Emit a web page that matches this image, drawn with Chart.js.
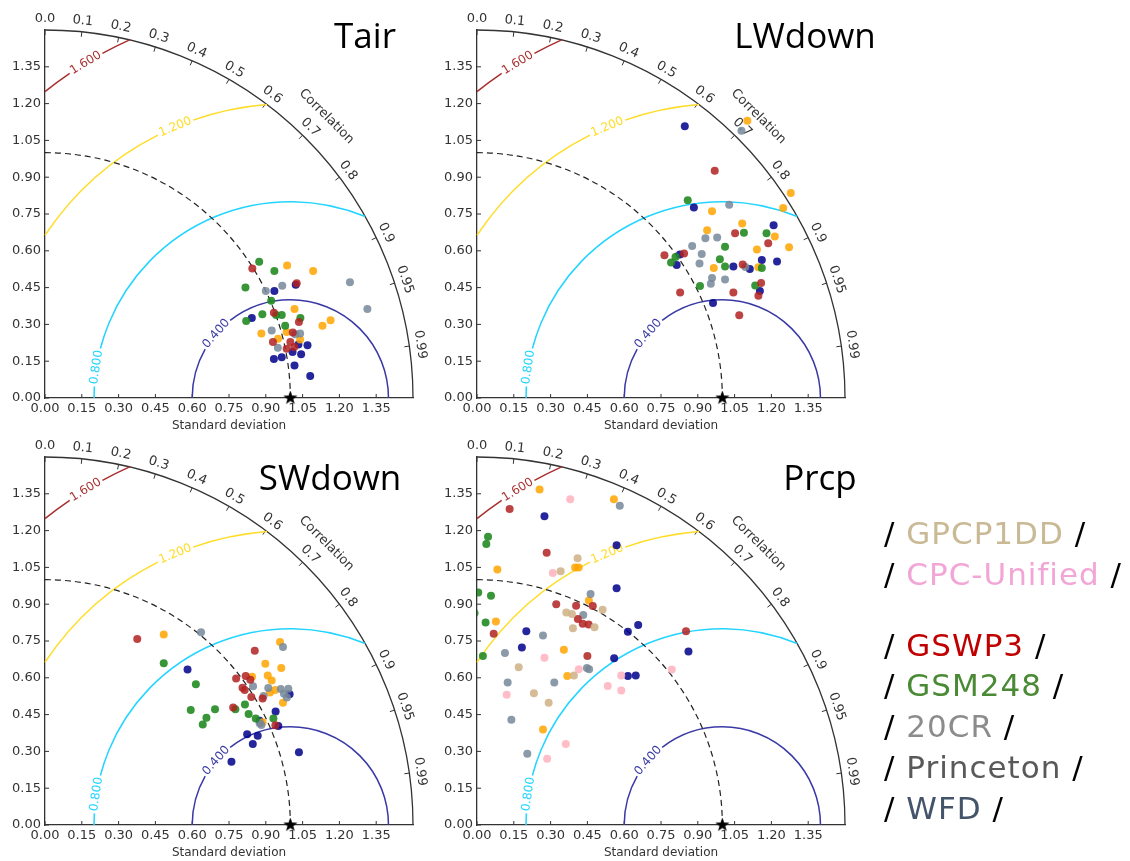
<!DOCTYPE html>
<html>
<head>
<meta charset="utf-8">
<title>Taylor diagrams</title>
<script src="https://cdn.jsdelivr.net/npm/chart.js@4.4.1/dist/chart.umd.min.js"></script>
<style>
  body { margin: 0; background: #fff; }
  #page { position: relative; width: 1130px; height: 861px; overflow: hidden; }
  #page canvas { position: absolute; }
  #legend {
    position: absolute; left: 884px; top: 513px;
    font-family: "DejaVu Sans", sans-serif; font-size: 31px; line-height: 40.8px;
    letter-spacing: 1px; color: #000; white-space: nowrap;
  }
  #legend .gap { height: 30px; }
</style>
</head>
<body>
<div id="page">
  <canvas id="c-tair" width="460" height="440" style="left:0;top:0"></canvas>
  <canvas id="c-lw" width="460" height="440" style="left:432px;top:0"></canvas>
  <canvas id="c-sw" width="460" height="440" style="left:0;top:427px"></canvas>
  <canvas id="c-prcp" width="460" height="440" style="left:432px;top:427px"></canvas>
  <div id="legend">
    <div>/ <span style="color:#c9b995">GPCP1DD</span> /</div>
    <div>/ <span style="color:#f2a6d6">CPC-Unified</span> /</div>
    <div class="gap"></div>
    <div>/ <span style="color:#c00000">GSWP3</span> /</div>
    <div>/ <span style="color:#4a8a34">GSM248</span> /</div>
    <div>/ <span style="color:#8c8c8c">20CR</span> /</div>
    <div>/ <span style="color:#595959">Princeton</span> /</div>
    <div>/ <span style="color:#44546a">WFD</span> /</div>
  </div>
</div>
<script>
// axis ticks (standard deviation) and correlation ticks on the arc
const stdTicks = [0, 0.15, 0.30, 0.45, 0.60, 0.75, 0.90, 1.05, 1.20, 1.35];
const corrTicks = [0, 0.1, 0.2, 0.3, 0.4, 0.5, 0.6, 0.7, 0.8, 0.9, 0.95, 0.99];
const maxStd = 1.5;
const refStd = 1;
const rmsLevels = [0.4, 0.8, 1.2, 1.6];

// points, [x, y] in std units
const tairGSWP3 = [[0.845,0.528],[1.026,0.468],[0.933,0.347],[1.035,0.310],[1.010,0.267],[0.929,0.228],[1.000,0.228],[1.016,0.208],[0.985,0.201]];
const tairGSM248 = [[0.873,0.555],[0.935,0.518],[0.817,0.450],[0.922,0.396],[0.886,0.341],[0.942,0.338],[0.965,0.338],[1.041,0.326],[0.820,0.314],[0.979,0.295]];
const tair20CR = [[0.900,0.436],[0.967,0.458],[1.243,0.472],[1.314,0.363],[0.924,0.275],[1.040,0.263],[1.020,0.260],[0.949,0.205]];
const tairPrinceton = [[0.987,0.540],[1.093,0.518],[1.017,0.363],[1.164,0.317],[1.131,0.294],[0.882,0.263],[0.985,0.269],[0.950,0.241],[1.040,0.238]];
const tairWFD = [[0.935,0.436],[1.022,0.462],[0.843,0.326],[1.033,0.218],[1.070,0.215],[1.009,0.188],[1.044,0.178],[0.965,0.166],[0.933,0.159],[1.017,0.132],[1.081,0.090]];

const lwGSWP3 = [[0.969,0.926],[1.052,0.672],[1.187,0.631],[0.764,0.582],[0.844,0.589],[1.083,0.544],[1.158,0.469],[1.147,0.417],[0.828,0.430],[1.045,0.430],[1.069,0.337]];
const lwGSM248 = [[0.859,0.806],[1.088,0.674],[1.180,0.672],[1.011,0.617],[0.809,0.575],[0.791,0.552],[0.990,0.566],[1.011,0.536],[1.161,0.530],[0.909,0.457],[1.134,0.459]];
const lw20CR = [[1.078,1.089],[1.028,0.788],[0.931,0.651],[0.979,0.654],[0.877,0.620],[0.916,0.587],[0.907,0.548],[1.094,0.534],[0.958,0.489],[0.953,0.466],[1.011,0.483]];
const lwPrinceton = [[1.102,1.130],[1.279,0.836],[0.958,0.761],[1.248,0.774],[1.081,0.711],[0.938,0.684],[1.214,0.658],[1.272,0.614],[1.141,0.605],[0.965,0.530],[1.147,0.533]];
const lwWFD = [[0.847,1.108],[0.884,0.776],[1.209,0.704],[0.827,0.585],[0.814,0.542],[1.161,0.563],[1.223,0.556],[1.045,0.536],[1.112,0.526],[1.153,0.436],[0.962,0.387]];

const swGSWP3 = [[0.376,0.758],[0.855,0.710],[0.779,0.597],[0.818,0.607],[0.837,0.592],[0.805,0.559],[0.814,0.550],[0.841,0.522],[0.887,0.516],[0.767,0.479],[0.939,0.407]];
const swGSM248 = [[0.484,0.659],[0.615,0.574],[0.815,0.491],[0.776,0.472],[0.693,0.472],[0.594,0.469],[0.830,0.452],[0.859,0.434],[0.658,0.437],[0.931,0.434],[0.643,0.410]];
const sw20CR = [[0.636,0.786],[0.970,0.726],[0.848,0.566],[0.910,0.558],[0.961,0.554],[0.992,0.555],[0.974,0.535],[0.986,0.520],[0.891,0.526],[0.875,0.415],[0.882,0.408]];
const swPrinceton = [[0.484,0.776],[0.958,0.746],[0.898,0.657],[0.963,0.640],[0.908,0.609],[0.844,0.604],[0.924,0.589],[0.938,0.550],[0.917,0.540],[0.970,0.498],[0.887,0.419]];
const swWFD = [[0.581,0.634],[0.997,0.533],[0.940,0.463],[0.875,0.425],[0.951,0.404],[0.824,0.370],[0.867,0.364],[0.847,0.330],[1.035,0.297],[0.760,0.258]];

const prGPCP = [[0.410,1.087],[0.341,1.034],[0.512,0.877],[0.364,0.866],[0.387,0.860],[0.479,0.806],[0.391,0.802],[0.170,0.643],[0.395,0.609],[0.232,0.537],[0.292,0.498]];
const prCPC = [[0.380,1.328],[0.309,1.027],[0.275,0.682],[0.415,0.635],[0.588,0.609],[0.794,0.634],[0.533,0.567],[0.588,0.548],[0.121,0.531],[0.362,0.330],[0.286,0.270]];
const prGSWP3 = [[0.133,1.288],[0.284,1.110],[0.323,0.900],[0.404,0.894],[0.472,0.893],[0.411,0.840],[0.431,0.820],[0.455,0.817],[0.068,0.780],[0.852,0.790],[0.450,0.689]];
const prGSM248 = [[0.045,1.175],[0.038,1.145],[0.005,0.948],[0.057,0.934],[-0.010,0.863],[0.035,0.825],[0.024,0.689]];
const pr20CR = [[0.582,1.301],[0.463,0.942],[0.433,0.856],[0.269,0.772],[0.114,0.701],[0.448,0.640],[0.457,0.635],[0.125,0.581],[0.315,0.581],[0.140,0.429],[0.205,0.290]];
const prPrinceton = [[0.255,1.368],[0.558,1.328],[0.400,1.050],[0.414,1.050],[0.083,1.041],[0.456,0.915],[0.077,0.829],[0.354,0.714],[0.368,0.607],[0.269,0.389]];
const prWFD = [[0.275,1.258],[0.569,1.140],[0.569,0.965],[0.657,0.815],[0.615,0.788],[0.201,0.790],[0.862,0.707],[0.183,0.723],[0.559,0.680],[0.615,0.607],[0.647,0.609]];

const colors = {
  GPCP1DD: 'rgba(210,180,140,0.9)',
  'CPC-Unified': 'rgba(255,182,193,0.9)',
  GSWP3: 'rgba(178,34,34,0.85)',
  GSM248: 'rgba(34,139,34,0.9)',
  '20CR': 'rgba(119,136,153,0.85)',
  Princeton: 'rgba(255,165,0,0.85)',
  WFD: 'rgba(0,0,139,0.85)'
};
const axisColor = '#333333';
const tickFont = '13px "DejaVu Sans"';
// contour colours and where the inline labels sit (degrees around the reference point)
const rmsColors = ['#3a3aa6', '#22d4ff', '#ffdc28', '#a83030'];
const rmsLabelAngles = [139, 171, 113, 121.4];

function starImage(size) {
  const c = document.createElement('canvas');
  c.width = c.height = size;
  const g = c.getContext('2d');
  const R = size / 2, r = R * 0.4;
  g.beginPath();
  for (let i = 0; i < 10; i++) {
    const a = -Math.PI / 2 + i * Math.PI / 5;
    const rr = i % 2 ? r : R;
    g.lineTo(R + rr * Math.cos(a), R + rr * Math.sin(a));
  }
  g.closePath();
  g.fillStyle = '#000';
  g.fill();
  return c;
}
const star = starImage(15);

const corrLabel = c => c === 0 ? '0.0' : String(c);

const taylorGrid = {
  id: 'taylorGrid',
  beforeDatasetsDraw(chart) {
    const {ctx, scales: {x, y}} = chart;
    const ox = x.getPixelForValue(0), oy = y.getPixelForValue(0);
    const u = x.getPixelForValue(1) - ox;
    const R = maxStd * u;
    ctx.save();

    // inward ticks on both straight axes
    ctx.strokeStyle = axisColor;
    ctx.lineWidth = 1;
    ctx.beginPath();
    stdTicks.forEach(v => {
      const px = x.getPixelForValue(v), py = y.getPixelForValue(v);
      ctx.moveTo(px, oy); ctx.lineTo(px, oy - 4);
      ctx.moveTo(ox, py); ctx.lineTo(ox + 4, py);
    });
    ctx.stroke();

    // outer arc
    ctx.lineWidth = 1.3;
    ctx.beginPath();
    ctx.arc(ox, oy, R, -Math.PI / 2, 0);
    ctx.stroke();

    // correlation ticks and labels
    ctx.font = tickFont;
    ctx.fillStyle = axisColor;
    ctx.textAlign = 'center';
    ctx.textBaseline = 'middle';
    ctx.lineWidth = 1;
    corrTicks.forEach(c => {
      const t = Math.acos(c), cs = Math.cos(t), sn = Math.sin(t);
      ctx.beginPath();
      ctx.moveTo(ox + R * cs, oy - R * sn);
      ctx.lineTo(ox + (R - 5) * cs, oy - (R - 5) * sn);
      ctx.stroke();
      ctx.save();
      ctx.translate(ox + (R + 11) * cs, oy - (R + 11) * sn);
      ctx.rotate(Math.PI / 2 - t);
      ctx.fillText(corrLabel(c), 0, 0);
      ctx.restore();
    });
    ctx.save();
    ctx.translate(ox + (R + 30) * Math.SQRT1_2, oy - (R + 30) * Math.SQRT1_2);
    ctx.rotate(Math.PI / 4);
    ctx.fillText('Correlation', 0, 0);
    ctx.restore();

    // centred RMS difference contours around the reference point
    const cx = x.getPixelForValue(refStd);
    ctx.font = '12px "DejaVu Sans"';
    ctx.lineWidth = 1.5;
    rmsLevels.forEach((r, i) => {
      const rp = r * u;
      let a0 = 0, a1 = Math.PI;
      const cosOuter = (maxStd * maxStd - refStd * refStd - r * r) / (2 * refStd * r);
      if (cosOuter < 1) a0 = Math.acos(Math.max(-1, cosOuter));
      if (r > refStd) a1 = Math.acos(-refStd / r);
      const txt = r.toFixed(3);
      const half = ctx.measureText(txt).width / 2 + 2;
      const al = rmsLabelAngles[i] * Math.PI / 180, gap = half / rp;
      ctx.strokeStyle = rmsColors[i];
      ctx.fillStyle = rmsColors[i];
      ctx.beginPath();
      ctx.arc(cx, oy, rp, -a0, -(al - gap), true);
      ctx.stroke();
      if (al + gap < a1) {
        ctx.beginPath();
        ctx.arc(cx, oy, rp, -(al + gap), -a1, true);
        ctx.stroke();
      }
      ctx.save();
      ctx.translate(cx + rp * Math.cos(al), oy - rp * Math.sin(al));
      ctx.rotate(Math.PI / 2 - al);
      ctx.fillText(txt, 0, 0);
      ctx.restore();
    });

    // reference standard deviation
    ctx.strokeStyle = '#222';
    ctx.lineWidth = 1.2;
    ctx.setLineDash([6, 4]);
    ctx.beginPath();
    ctx.arc(ox, oy, refStd * u, -Math.PI / 2, 0);
    ctx.stroke();
    ctx.restore();
  },
  afterDraw(chart, args, opts) {
    const ctx = chart.ctx;
    ctx.save();
    ctx.font = '35px "Open Sans"';
    ctx.fillStyle = '#000';
    ctx.textAlign = 'center';
    ctx.textBaseline = 'alphabetic';
    ctx.fillText(opts.title, opts.titleX, opts.titleY);
    ctx.restore();
  }
};

function makeChart(id, title, titleX, titleY, series) {
  const datasets = series.map(([name, pts]) => ({
    label: name,
    data: pts.map(([x, y]) => ({x, y})),
    backgroundColor: colors[name],
    borderWidth: 0,
    pointRadius: 4,
    pointHoverRadius: 4
  }));
  datasets.push({
    label: 'Reference',
    data: [{x: refStd, y: 0}],
    pointStyle: star,
    clip: false
  });
  return new Chart(document.getElementById(id), {
    type: 'scatter',
    data: {datasets},
    plugins: [taylorGrid],
    options: {
      responsive: false,
      animation: false,
      events: [],
      layout: {padding: {top: 30, right: 47, bottom: 0, left: 0}},
      plugins: {
        legend: {display: false},
        tooltip: {enabled: false},
        taylorGrid: {title, titleX, titleY}
      },
      scales: {
        x: {
          type: 'linear', min: 0, max: maxStd,
          afterBuildTicks: s => { s.ticks = stdTicks.map(v => ({value: v})); },
          afterFit: s => { s.height = 42; },
          grid: {display: false, drawTicks: false},
          border: {display: true, color: axisColor, width: 1.3},
          ticks: {
            callback: v => v.toFixed(2), color: axisColor, padding: 3,
            maxRotation: 0, autoSkip: false, font: {family: 'DejaVu Sans', size: 13}
          },
          title: {
            display: true, text: 'Standard deviation', color: axisColor,
            font: {family: 'DejaVu Sans', size: 12}, padding: {top: 0, bottom: 7}
          }
        },
        y: {
          type: 'linear', min: 0, max: maxStd,
          afterBuildTicks: s => { s.ticks = stdTicks.map(v => ({value: v})); },
          afterFit: s => { s.width = 45; },
          grid: {display: false, drawTicks: false},
          border: {display: true, color: axisColor, width: 1.3},
          ticks: {
            callback: v => v.toFixed(2), color: axisColor, padding: 4,
            autoSkip: false, font: {family: 'DejaVu Sans', size: 13}
          }
        }
      }
    }
  });
}

makeChart('c-tair', 'Tair', 365, 48, [
  ['GSWP3', tairGSWP3], ['GSM248', tairGSM248], ['20CR', tair20CR], ['Princeton', tairPrinceton], ['WFD', tairWFD]
]);
makeChart('c-lw', 'LWdown', 373, 48, [
  ['GSWP3', lwGSWP3], ['GSM248', lwGSM248], ['20CR', lw20CR], ['Princeton', lwPrinceton], ['WFD', lwWFD]
]);
makeChart('c-sw', 'SWdown', 330, 63, [
  ['GSWP3', swGSWP3], ['GSM248', swGSM248], ['20CR', sw20CR], ['Princeton', swPrinceton], ['WFD', swWFD]
]);
makeChart('c-prcp', 'Prcp', 388, 63, [
  ['GPCP1DD', prGPCP], ['CPC-Unified', prCPC], ['GSWP3', prGSWP3], ['GSM248', prGSM248],
  ['20CR', pr20CR], ['Princeton', prPrinceton], ['WFD', prWFD]
]);
</script>
</body>
</html>
